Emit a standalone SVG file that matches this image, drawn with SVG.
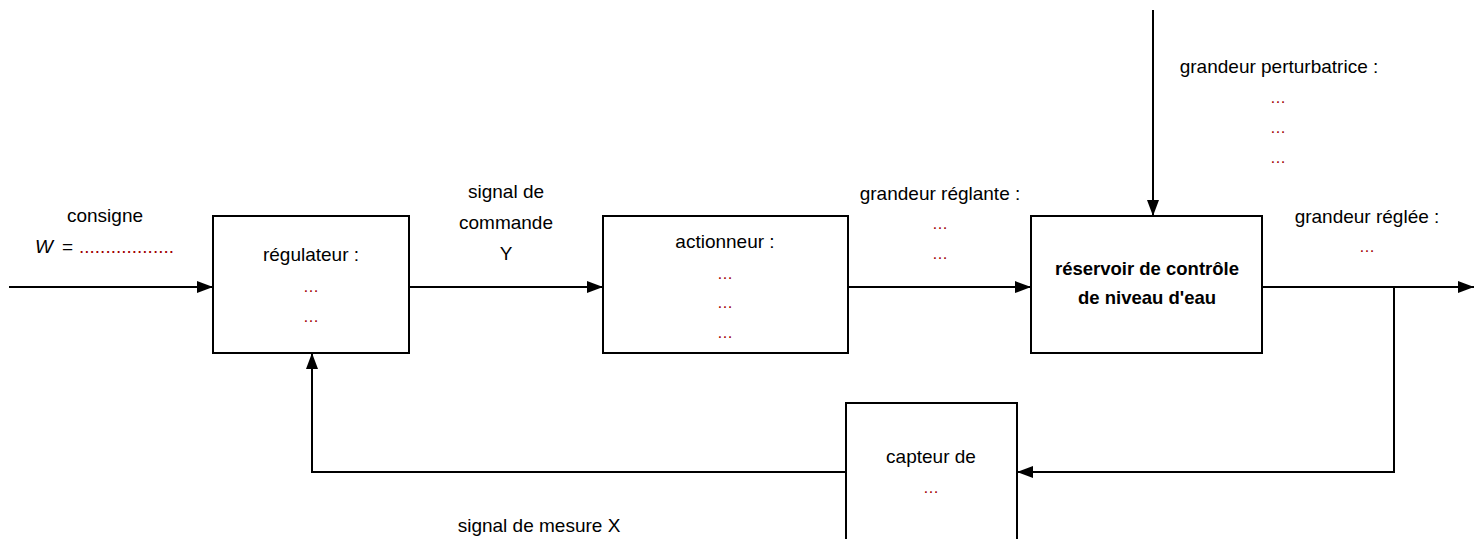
<svg xmlns="http://www.w3.org/2000/svg" width="1482" height="539" viewBox="0 0 1482 539">
  <style>
    text { font-family: "Liberation Sans", Arial, sans-serif; font-size: 19px; fill: #000; }
    .c { text-anchor: middle; }
    .b { font-weight: bold; font-size: 18.5px; }
    .dot { fill: #a00000; font-size: 16px; }
    .box { fill: #fff; stroke: #000; stroke-width: 2; }
    .wire { fill: none; stroke: #000; stroke-width: 2; }
  </style>
  <defs>
    <marker id="arrow" markerUnits="userSpaceOnUse" markerWidth="16" markerHeight="12" refX="16" refY="6" orient="auto">
      <path d="M0,0 L16,6 L0,12 Z" fill="#000"/>
    </marker>
  </defs>
  <rect width="1482" height="539" fill="#fff"/>

  <!-- connectors -->
  <g id="connectors" class="wire">
    <line x1="9" y1="287" x2="213" y2="287" marker-end="url(#arrow)"/>
    <line x1="409" y1="287" x2="603" y2="287" marker-end="url(#arrow)"/>
    <line x1="848" y1="287" x2="1031" y2="287" marker-end="url(#arrow)"/>
    <line x1="1153" y1="10" x2="1153" y2="216" marker-end="url(#arrow)"/>
    <line x1="1262" y1="287" x2="1474" y2="287" marker-end="url(#arrow)"/>
    <polyline points="1394,287 1394,472 1017,472" marker-end="url(#arrow)"/>
    <polyline points="846,472 312,472 312,353" marker-end="url(#arrow)"/>
  </g>

  <!-- input: set point -->
  <g id="consigne">
    <text class="c" x="105" y="222">consigne</text>
    <text x="35" y="253" font-style="italic">W</text>
    <text x="62" y="253">=</text>
    <text x="79" y="253" style="fill:#a00000">..................</text>
  </g>

  <!-- controller -->
  <g id="regulateur">
    <rect class="box" x="213" y="216" width="196" height="137"/>
    <text class="c" x="311" y="261">régulateur :</text>
    <text class="c dot" x="311" y="292">…</text>
    <text class="c dot" x="311" y="322">…</text>
  </g>

  <g id="signal-commande">
    <text class="c" x="506" y="198">signal de</text>
    <text class="c" x="506" y="229">commande</text>
    <text class="c" x="506" y="260">Y</text>
  </g>

  <!-- actuator -->
  <g id="actionneur">
    <rect class="box" x="603" y="216" width="245" height="137"/>
    <text class="c" x="725" y="248">actionneur :</text>
    <text class="c dot" x="725" y="279">…</text>
    <text class="c dot" x="725" y="308">…</text>
    <text class="c dot" x="725" y="338">…</text>
  </g>

  <g id="grandeur-reglante">
    <text class="c" x="940" y="200">grandeur réglante :</text>
    <text class="c dot" x="940" y="229">…</text>
    <text class="c dot" x="940" y="259">…</text>
  </g>

  <!-- process -->
  <g id="reservoir">
    <rect class="box" x="1031" y="216" width="231" height="137"/>
    <text class="c b" x="1147" y="275">réservoir de contrôle</text>
    <text class="c b" x="1147" y="304">de niveau d'eau</text>
  </g>

  <g id="grandeur-perturbatrice">
    <text class="c" x="1279" y="73">grandeur perturbatrice :</text>
    <text class="c dot" x="1278" y="103">…</text>
    <text class="c dot" x="1278" y="133">…</text>
    <text class="c dot" x="1278" y="163">…</text>
  </g>

  <g id="grandeur-reglee">
    <text class="c" x="1367" y="223">grandeur réglée :</text>
    <text class="c dot" x="1367" y="252">…</text>
  </g>

  <!-- sensor -->
  <g id="capteur">
    <rect class="box" x="846" y="403" width="171" height="150"/>
    <text class="c" x="931" y="463">capteur de</text>
    <text class="c dot" x="931" y="493">…</text>
  </g>

  <g id="signal-mesure">
    <text class="c" x="539" y="532">signal de mesure X</text>
  </g>
</svg>
